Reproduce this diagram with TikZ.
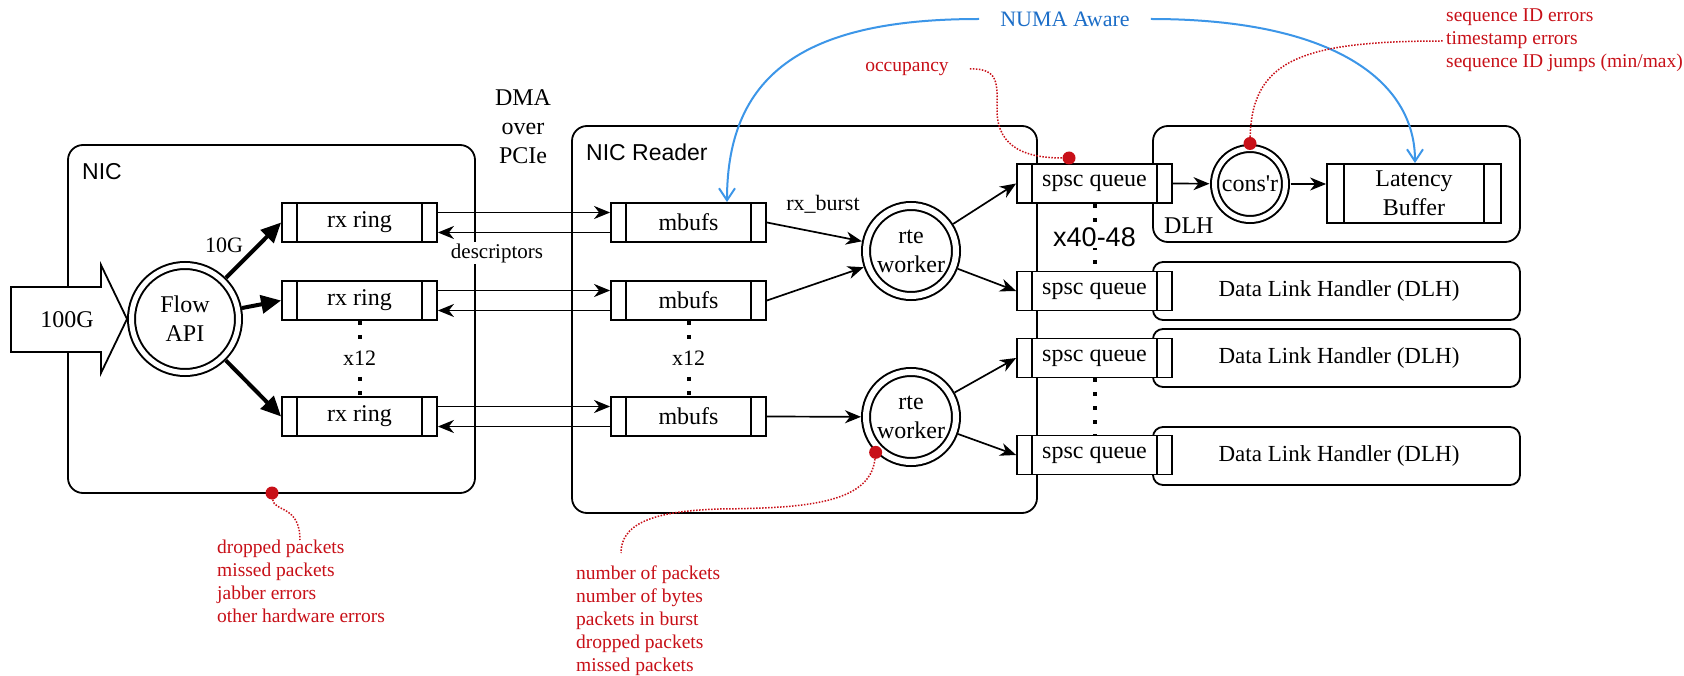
\documentclass[tikz,border=0pt]{standalone}
\usepackage{fontspec}
\setmainfont{Liberation Serif}
\setsansfont{Liberation Sans}
\newfontfamily\plainserif{Liberation Serif}
\usetikzlibrary{arrows.meta,calc}
\definecolor{statred}{RGB}{200,16,24}
\definecolor{numaline}{RGB}{60,150,232}
\definecolor{numatext}{RGB}{28,110,200}
\tikzset{
  base/.style={font=\fontsize{24}{29}\selectfont},
  small/.style={font=\fontsize{22}{27}\selectfont},
  container/.style={draw, line width=1.8pt, rounded corners=15pt, inner sep=0pt},
  dlhbox/.style={draw, line width=1.8pt, rounded corners=10pt, minimum width=367pt, minimum height=58pt, inner sep=0pt, font=\fontsize{23}{28}\selectfont},
  qbox/.style={draw, fill=white, line width=1.8pt, minimum width=155pt, minimum height=39pt, inner sep=0pt, base,
    path picture={\draw[line width=1.8pt] ([xshift=#1]path picture bounding box.north west) -- ([xshift=#1]path picture bounding box.south west);
                  \draw[line width=1.8pt] ([xshift=-#1]path picture bounding box.north east) -- ([xshift=-#1]path picture bounding box.south east);}},
  qbox/.default=15pt,
  dcirc/.style={circle, draw, line width=2pt, double, double distance=#1, fill=white, inner sep=0pt, align=center, base},
  tarrow/.style={line width=1.7pt, -{Stealth[length=16pt,width=13pt,inset=5pt]}},
  thickarrow/.style={line width=4pt, -{Triangle[length=20pt,width=18pt]}},
  numaarrow/.style={draw=numaline, line width=2pt, -{Straight Barb[length=12pt,width=16pt]}},
  reddotted/.style={draw=statred, line width=1.5pt, dash pattern=on 1.5pt off 1.5pt},
  reddot/.style={circle, fill=statred, minimum size=13pt, inner sep=0pt},
  vdots/.style={line width=4pt, dash pattern=on 4pt off 10pt},
  stat/.style={text=statred, font=\fontsize{19.5}{23}\selectfont, align=left, inner sep=0pt},
  sanslabel/.style={font=\sffamily\fontsize{23}{27}\selectfont, inner sep=0pt, anchor=west},
}
\begin{document}
\begin{tikzpicture}[x=1pt, y=-1pt, every node/.append style={font=\fontsize{24}{29}\selectfont}]
\fill[white] (0,0) rectangle (1684,676);
\useasboundingbox (0,0) rectangle (1684,676);

% containers
\node[container, minimum width=407pt, minimum height=348pt] (nic) at (271.5,319) {};
\node[container, minimum width=465pt, minimum height=387pt] (reader) at (804.5,319.5) {};
\node[container, minimum width=367pt, minimum height=116pt] (dlh) at (1336.5,184) {};
\node[dlhbox] (dlh2) at (1336.5,291) {\hspace*{5pt}Data Link Handler (DLH)};
\node[dlhbox] (dlh3) at (1336.5,358) {\hspace*{5pt}Data Link Handler (DLH)};
\node[dlhbox] (dlh4) at (1336.5,456) {\hspace*{5pt}Data Link Handler (DLH)};

\node[sanslabel] (niclbl) at (82,172) {NIC};
\node[sanslabel] (readerlbl) at (586,152) {NIC Reader};
\node[base, anchor=west, inner sep=0pt] (dlhlbl) at (1164,226) {DLH};
\node[base, align=center, inner sep=0pt] (dma) at (523,127) {DMA\\over\\PCIe};

% input arrow
\draw[line width=1.8pt, fill=white] (11,287) -- (101,287) -- (101,265) -- (127,319) -- (101,373) -- (101,352) -- (11,352) -- cycle;
\node[base, inner sep=0pt] (in100) at (67,320) {100G};

% main nodes
\node[dcirc=5pt, minimum size=107pt, outer sep=4.5pt] (flow) at (185,319) {Flow\\API};
\node[qbox] (rx1) at (359.5,222.5) {rx ring};
\node[qbox] (rx2) at (359.5,300.5) {rx ring};
\node[qbox] (rx3) at (359.5,416.5) {rx ring};
\node[qbox] (mb1) at (688.5,222.5) {mbufs};
\node[qbox] (mb2) at (688.5,300.5) {mbufs};
\node[qbox] (mb3) at (688.5,416.5) {mbufs};
\node[dcirc=6pt, minimum size=90pt, outer sep=5pt] (w1) at (911,251) {rte\\worker};
\node[dcirc=6pt, minimum size=90pt, outer sep=5pt] (w2) at (911,417) {rte\\worker};
\node[qbox] (sp1) at (1094.5,183.5) {spsc queue};
\node[qbox] (sp2) at (1094.5,291) {spsc queue};
\node[qbox] (sp3) at (1094.5,358) {spsc queue};
\node[qbox] (sp4) at (1094.5,455) {spsc queue};
\node[dcirc=5pt, minimum size=71pt, outer sep=5pt] (cons) at (1250,184) {\plainserif cons'r};
\node[qbox=17pt, minimum width=174pt, minimum height=59pt, align=center] (lat) at (1414,193.5) {Latency\\Buffer};

% thick arrows
\draw[thickarrow] (flow) -- (rx1.west);
\draw[thickarrow] (flow) -- (rx2.west);
\draw[thickarrow] (flow) -- (rx3.west);
\node[small, inner sep=0pt] (g10) at (224,245) {10G};

% DMA arrows
\foreach \i in {1,2,3}{
  \draw[tarrow] ([yshift=10pt]rx\i.east) -- ([yshift=10pt]mb\i.west);
  \draw[tarrow] ([yshift=-10pt]mb\i.west) -- ([yshift=-10pt]rx\i.east);
}
\node[font=\fontsize{21}{26}\selectfont, fill=white, inner sep=1.5pt] (desc) at (497,253) {descriptors};

% workers
\draw[tarrow] (mb1.east) -- (w1);
\draw[tarrow] (mb2.east) -- (w1);
\draw[tarrow] (mb3.east) -- (w2);
\node[small, inner sep=0pt] (rxb) at (823,204) {rx\_burst};
\draw[tarrow] (w1) -- (sp1.west);
\draw[tarrow] (w1) -- (sp2.west);
\draw[tarrow] (w2) -- (sp3.west);
\draw[tarrow] (w2) -- (sp4.west);
\draw[tarrow] (sp1.east) -- (cons);
\draw[tarrow] (cons.east) -- (cons.east -| lat.west);

% dotted columns
\draw[vdots] (rx2.south) -- node[small, fill=white, inner xsep=1pt, inner ysep=3pt] (x12a) {x12} (rx3.north);
\draw[vdots] (mb2.south) -- node[small, fill=white, inner xsep=1pt, inner ysep=3pt] (x12b) {x12} (mb3.north);
\draw[vdots] (sp1.south) -- node[fill=white, font=\sffamily\fontsize{27}{30}\selectfont, inner sep=1pt] (x4048) {x40-48} (sp2.north);
\draw[vdots] (sp3.south) -- (sp4.north);

% NUMA
\node[small, text=numatext, inner xsep=21pt, inner ysep=0pt] (numa) at (1065,19) {NUMA Aware};
\draw[numaarrow] (numa.west) .. controls (810,19) and (727,70) .. ([xshift=38.5pt]mb1.north);
\draw[numaarrow] (numa.east) .. controls (1332,19) and (1415,80) .. ([xshift=1pt]lat.north);

% statistics
\node[reddot] (dnic) at (272,493) {};
\node[reddot] (docc) at (1069,158) {};
\node[reddot] (dcons) at (cons.north) {};
\node[reddot] (dw2) at (w2.south west) {};

\node[stat, anchor=north west] (nicstats) at (217,540) {dropped packets\\missed packets\\jabber errors\\other hardware errors};
\node[stat, anchor=north west] (readerstats) at (576,566) {number of packets\\number of bytes\\packets in burst\\dropped packets\\missed packets};
\node[stat, anchor=north west] (dlhstats) at (1446,9) {sequence ID errors\\timestamp errors\\sequence ID jumps (min/max)};
\node[stat] (occ) at (907,69) {occupancy};

\coordinate (enic) at (300,540);
\coordinate (ereader) at (621,553);
\coordinate (edlh) at (1443,41);

\draw[reddotted] (dnic) .. controls (274,512) and (300,505) .. (enic);
\draw[reddotted] ([xshift=21pt]occ.east) .. controls (1000,68) and (997,85) .. (997,110) .. controls (997,150) and (1030,158) .. (docc);
\draw[reddotted] (dcons) .. controls (1252,60) and (1302,41) .. (edlh);
\draw[reddotted] (dw2) .. controls (870,505) and (800,508) .. (720,509) .. controls (650,511) and (621,525) .. (ereader);
\end{tikzpicture}
\end{document}
